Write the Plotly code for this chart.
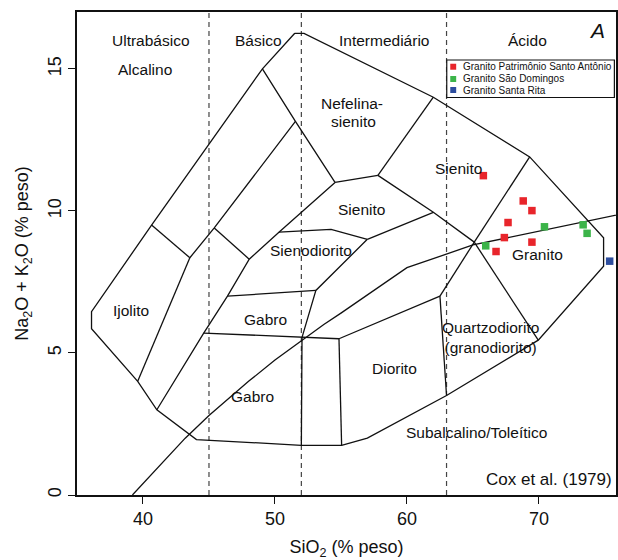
import plotly.graph_objects as go

# ---- Cox et al. (1979) plutonic TAS field boundaries (SiO2, Na2O+K2O) ----
outer_x = [51.5, 52.2, 62.0, 69.3, 74.9, 74.9, 69.95, 63.0, 57.0, 55.05, 52.0,
           44.05, 41.05, 39.6, 36.1, 36.1, 40.65, 49.05, 51.5]
outer_y = [16.25, 16.25, 14.0, 11.9, 9.05, 8.05, 5.45, 3.5, 2.0, 1.75, 1.75,
           1.95, 3.0, 4.0, 5.85, 6.45, 9.5, 15.0, 16.25]

ijolito_top_x = [40.65, 43.55]
ijolito_top_y = [9.5, 8.35]
ijolito_right_x = [43.55, 39.6]
ijolito_right_y = [8.35, 4.0]
diag2_x = [43.55, 45.4, 51.55]
diag2_y = [8.35, 9.4, 13.15]
ridge_x = [49.05, 51.55, 54.55]
ridge_y = [15.0, 13.15, 11.0]
short_x = [45.4, 48.05]
short_y = [9.4, 8.3]
diag3_x = [41.05, 44.6, 46.4, 48.05, 50.3, 54.55]
diag3_y = [3.0, 5.7, 7.0, 8.3, 9.25, 11.0]
nef_bottom_x = [54.55, 57.8]
nef_bottom_y = [11.0, 11.25]
nef_right_x = [57.8, 62.0]
nef_right_y = [11.25, 14.0]
sienito_lr_x = [57.8, 62.0, 65.1]
sienito_lr_y = [11.25, 9.95, 8.9]
sienodiorito_top_x = [50.3, 54.25, 57.0]
sienodiorito_top_y = [9.25, 9.35, 9.0]
sienito_bottom_x = [57.0, 62.0]
sienito_bottom_y = [9.0, 9.95]
sienodiorito_right_x = [57.0, 53.1, 52.05]
sienodiorito_right_y = [9.0, 7.2, 5.55]
gabro_top_x = [46.4, 53.1]
gabro_top_y = [7.0, 7.2]
gabro_low_x = [44.6, 52.05, 54.85]
gabro_low_y = [5.7, 5.55, 5.5]
gabro_right_x = [52.05, 52.0]
gabro_right_y = [5.55, 1.75]
diorito_left_x = [54.85, 55.05]
diorito_left_y = [5.5, 1.75]
diorito_top_x = [54.85, 62.5]
diorito_top_y = [5.5, 7.0]
qdiorito_left_x = [62.5, 63.0]
qdiorito_left_y = [7.0, 3.5]
qdiorito_top_x = [62.5, 65.1]
qdiorito_top_y = [7.0, 8.9]
granito_left_x = [65.1, 69.3]
granito_left_y = [8.9, 11.9]
granito_bottom_x = [65.1, 69.95]
granito_bottom_y = [8.9, 5.45]

# Alkaline / subalkaline divide (Irvine & Baragar 1971)
alk_x = [39.2, 40, 43.2, 45, 48, 50, 53.7, 55, 60, 65, 77.4]
alk_y = [0, 0.4, 2, 2.8, 4, 4.75, 6, 6.4, 8, 8.8, 10]

# Silica classes
silica_limits = [45, 52, 63]

# ---- Samples ----
psa_sio2 = [65.79, 68.81, 69.47, 67.66, 67.38, 69.47, 66.75]
psa_alk = [11.24, 10.35, 10.01, 9.59, 9.06, 8.90, 8.57]
sd_sio2 = [70.42, 73.35, 73.65, 65.97]
sd_alk = [9.44, 9.51, 9.21, 8.77]
sr_sio2 = [75.36]
sr_alk = [8.23]

series_names = ["Granito Patrimônio Santo Antônio", "Granito São Domingos", "Granito Santa Rita"]
series_colors = ["#e8252b", "#3cb449", "#2d4d9e"]

# ---- Field and class labels ----
label_text = ["Ultrabásico", "Alcalino", "Básico", "Intermediário", "Ácido",
              "Nefelina-", "sienito", "Sienito", "Sienito", "Sienodiorito",
              "Gabro", "Gabro", "Ijolito", "Diorito",
              "Quartzodiorito<br>(granodiorito)",
              "Subalcalino/Toleítico", "Granito"]
label_x = [40.62, 40.16, 48.75, 58.24, 69.12,
           55.85, 55.97, 63.9, 56.53, 52.70,
           49.3, 48.29, 39.11, 59.05,
           66.3,
           65.29, 69.87]
label_y = [16.0, 14.99, 16.0, 16.0, 16.0,
           13.79, 13.14, 11.5, 10.04, 8.60,
           6.16, 3.46, 6.51, 4.46,
           5.56,
           2.21, 8.45]

FONT = "Liberation Sans, Arial, Helvetica, sans-serif"
X_RANGE = [35, 75.84]
Y_RANGE = [0, 17]

fig = go.Figure()

boundaries = [
    (outer_x, outer_y), (ijolito_top_x, ijolito_top_y), (ijolito_right_x, ijolito_right_y),
    (diag2_x, diag2_y), (ridge_x, ridge_y), (short_x, short_y), (diag3_x, diag3_y),
    (nef_bottom_x, nef_bottom_y), (nef_right_x, nef_right_y), (sienito_lr_x, sienito_lr_y),
    (sienodiorito_top_x, sienodiorito_top_y), (sienito_bottom_x, sienito_bottom_y),
    (sienodiorito_right_x, sienodiorito_right_y), (gabro_top_x, gabro_top_y),
    (gabro_low_x, gabro_low_y), (gabro_right_x, gabro_right_y),
    (diorito_left_x, diorito_left_y), (diorito_top_x, diorito_top_y),
    (qdiorito_left_x, qdiorito_left_y), (qdiorito_top_x, qdiorito_top_y),
    (granito_left_x, granito_left_y), (granito_bottom_x, granito_bottom_y),
    (alk_x, alk_y),
]

for lim in silica_limits:
    fig.add_trace(go.Scatter(x=[lim, lim], y=Y_RANGE, mode="lines",
                             line=dict(color="#444444", width=1.2, dash="5px,4px"),
                             hoverinfo="skip", showlegend=False))

for bx, by in boundaries:
    fig.add_trace(go.Scatter(x=bx, y=by, mode="lines",
                             line=dict(color="#111111", width=1.3),
                             hoverinfo="skip", showlegend=False))

for name, xs, ys, col in zip(series_names, [psa_sio2, sd_sio2, sr_sio2],
                             [psa_alk, sd_alk, sr_alk], series_colors):
    fig.add_trace(go.Scatter(x=xs, y=ys, mode="markers", name=name,
                             marker=dict(symbol="square", size=7.5, color=col,
                                         line=dict(width=0)),
                             showlegend=False))

annotations = []
for t, lx, ly in zip(label_text, label_x, label_y):
    annotations.append(dict(x=lx, y=ly, xref="x", yref="y", text=t, showarrow=False,
                            font=dict(family=FONT, size=15.5, color="#111111"),
                            xanchor="center", yanchor="middle"))

annotations.append(dict(x=70.76, y=0.53, xref="x", yref="y", text="Cox et al. (1979)",
                        showarrow=False, font=dict(family=FONT, size=17, color="#111111"),
                        xanchor="center", yanchor="middle"))
annotations.append(dict(x=74.43, y=16.36, xref="x", yref="y", text="<i>A</i>",
                        showarrow=False, font=dict(family=FONT, size=21, color="#111111"),
                        xanchor="center", yanchor="middle"))

# Legend box drawn in paper coordinates
leg_x0, leg_x1, leg_y0, leg_y1 = 0.686, 0.997, 0.823, 0.9006
shapes = [dict(type="rect", xref="paper", yref="paper", x0=leg_x0, x1=leg_x1,
               y0=leg_y0, y1=leg_y1, line=dict(color="#111111", width=1.2),
               fillcolor="white", layer="above")]
leg_rows = [0.8867, 0.8613, 0.8385]
sq_x = 0.698
sq_w = 0.0055
sq_h = 0.0062
for row, col, name in zip(leg_rows, series_colors, series_names):
    shapes.append(dict(type="rect", xref="paper", yref="paper",
                       x0=sq_x - sq_w, x1=sq_x + sq_w, y0=row - sq_h, y1=row + sq_h,
                       line=dict(width=0), fillcolor=col, layer="above"))
    annotations.append(dict(x=0.7117, y=row, xref="paper", yref="paper", text=name,
                            showarrow=False, font=dict(family=FONT, size=10, color="#111111"),
                            xanchor="left", yanchor="middle"))

axis_common = dict(showgrid=False, zeroline=False, showline=True, linecolor="#111111",
                   linewidth=1.5, mirror=True, ticks="outside", ticklen=7, tickwidth=1,
                   tickcolor="#111111", tickfont=dict(family=FONT, size=18, color="#111111"))

fig.update_layout(
    width=618, height=560, autosize=False,
    margin=dict(l=77, r=0, t=12, b=65),
    paper_bgcolor="white", plot_bgcolor="white",
    xaxis=dict(range=X_RANGE, tickvals=[40, 50, 60, 70],
               title=dict(text="SiO<sub>2</sub> (% peso)", standoff=14,
                          font=dict(family=FONT, size=18, color="#111111")),
               **axis_common),
    yaxis=dict(range=Y_RANGE, tickvals=[0, 5, 10, 15], tickangle=-90,
               title=dict(text="Na<sub>2</sub>O + K<sub>2</sub>O (% peso)", standoff=12,
                          font=dict(family=FONT, size=18, color="#111111")),
               **axis_common),
    annotations=annotations,
    shapes=shapes,
    showlegend=False,
)

fig.write_html("out.html")
